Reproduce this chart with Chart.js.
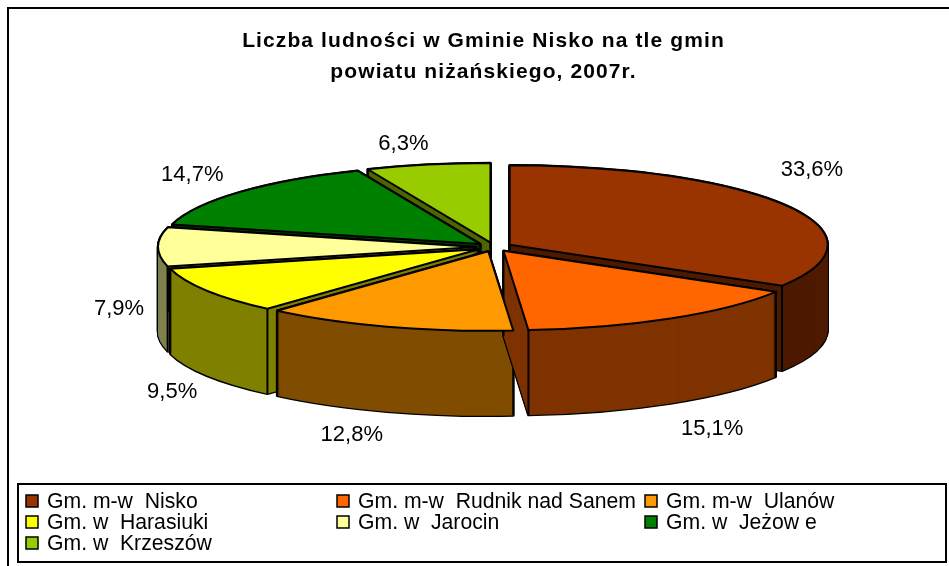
<!DOCTYPE html>
<html><head><meta charset="utf-8">
<script src="https://cdn.jsdelivr.net/npm/chart.js@4"></script>
<style>html,body{margin:0;padding:0;background:#fff}#w{position:relative;width:949px;height:566px}canvas{display:block}</style>
</head><body><div id="w"><canvas id="c" width="949" height="566"></canvas></div>
<script>
const categories = ['Gm. m-w  Nisko','Gm. m-w  Rudnik nad Sanem','Gm. m-w  Ulanów','Gm. w  Harasiuki','Gm. w  Jarocin','Gm. w  Jeżow e','Gm. w  Krzeszów'];
const shares = [33.6,15.1,12.8,9.5,7.9,14.7,6.3];
const topColors = ['#993300','#FF6600','#FF9900','#FFFF00','#FFFF99','#008000','#99CC00'];
const wallColors = ['#4D1A00','#7F3300','#804D00','#808000','#80804D','#004000','#4D6600'];
const titleLines = ['Liczba ludności w Gminie Nisko na tle gmin','powiatu niżańskiego, 2007r.'];
const wallOrder = [6,5,4,0,3,2,1];
const labelNudge = [[41,-38],[51,114],[-41,113],[-50,104],[-57,62],[-61,-20],[-28,-25]];
const legendCols = [26,337,645];
const legendRows = [501,522,543];

const EXPLODE = 18;
const PIE = {cx:494, cy:247, yScale:0.25, depth:85, radius:318};
let base = {x:0, y:0};
const place = (ctx, dy) => {
  ctx.translate(PIE.cx, PIE.cy + dy);
  ctx.scale(1, PIE.yScale);
  ctx.translate(-base.x, -base.y);
};
const slicePath = (ctx, a, dy) => {
  ctx.save();
  place(ctx, dy);
  ctx.beginPath();
  ctx.moveTo(a.x, a.y);
  ctx.arc(a.x, a.y, a.outerRadius, a.startAngle, a.endAngle);
  ctx.closePath();
  ctx.restore();
};
const pie3d = {
  id: 'pie3d',
  afterDatasetsUpdate(chart) {
    const arcs = chart.getDatasetMeta(0).data;
    base = {x: arcs[0].x, y: arcs[0].y};
    arcs.forEach((a) => {
      const m = (a.startAngle + a.endAngle) / 2;
      a.x = base.x + Math.cos(m) * EXPLODE;
      a.y = base.y + Math.sin(m) * EXPLODE;
    });
  },
  beforeDraw(chart) {
    const {ctx, width, height} = chart;
    ctx.save();
    ctx.fillStyle = '#fff';
    ctx.fillRect(0, 0, width, height);
    ctx.strokeStyle = '#000';
    ctx.lineWidth = 2;
    ctx.strokeRect(8, 8, width + 20, height + 20);
    ctx.restore();
    ctx.letterSpacing = '1.1px';
  },
  beforeDatasetsDraw(chart) {
    const {ctx} = chart;
    ctx.letterSpacing = '0px';
    const arcs = chart.getDatasetMeta(0).data;
    wallOrder.forEach((i) => {
      const a = arcs[i];
      ctx.save();
      ctx.strokeStyle = '#000';
      ctx.lineWidth = 2.5;
      ctx.lineJoin = 'round';
      for (let d = PIE.depth; d >= 0; d--) { slicePath(ctx, a, d); ctx.stroke(); }
      ctx.restore();
      const saved = a.options;
      a.options = Object.assign({}, saved, {backgroundColor: wallColors[i], borderWidth: 0});
      for (let d = PIE.depth; d >= 1; d--) {
        ctx.save();
        place(ctx, d);
        a.draw(ctx);
        ctx.restore();
      }
      a.options = saved;
      const r = a.outerRadius;
      const corners = [
        [a.x + Math.cos(a.startAngle) * r, a.y + Math.sin(a.startAngle) * r],
        [a.x + Math.cos(a.endAngle) * r, a.y + Math.sin(a.endAngle) * r]];
      const down = Math.PI / 2 + (a.startAngle > Math.PI / 2 ? Math.PI * 2 : 0);
      if (!(a.startAngle <= down && down <= a.endAngle)) corners.push([a.x, a.y]);
      corners.forEach(([px, py]) => {
        ctx.save();
        place(ctx, 0);
        const t = ctx.getTransform();
        ctx.restore();
        const sx = t.a * px + t.e, sy = t.d * py + t.f;
        ctx.save();
        ctx.strokeStyle = '#000';
        ctx.lineWidth = 2;
        ctx.beginPath();
        ctx.moveTo(sx, sy);
        ctx.lineTo(sx, sy + PIE.depth);
        ctx.stroke();
        ctx.restore();
      });
    });
    ctx.save();
    place(ctx, 0);
  },
  afterDatasetsDraw(chart) {
    const {ctx} = chart;
    ctx.restore();
    const arcs = chart.getDatasetMeta(0).data;
    arcs.forEach((a) => {
      ctx.save();
      ctx.strokeStyle = '#000';
      ctx.lineWidth = 2;
      ctx.lineJoin = 'round';
      slicePath(ctx, a, 0);
      ctx.stroke();
      ctx.restore();
    });
    ctx.save();
    ctx.font = '22px "Liberation Sans", Arial, sans-serif';
    ctx.fillStyle = '#000';
    ctx.textAlign = 'center';
    ctx.textBaseline = 'middle';
    arcs.forEach((a, i) => {
      const m = (a.startAngle + a.endAngle) / 2;
      const x = PIE.cx + Math.cos(m) * PIE.radius + labelNudge[i][0];
      const y = PIE.cy + Math.sin(m) * PIE.radius * PIE.yScale + labelNudge[i][1];
      ctx.fillText(shares[i].toFixed(1).replace('.', ',') + '%', x, y);
    });
    ctx.restore();
  },
  afterDraw(chart) {
    const {ctx} = chart;
    ctx.save();
    ctx.fillStyle = '#fff';
    ctx.strokeStyle = '#000';
    ctx.lineWidth = 2;
    ctx.fillRect(18, 484, 928, 78);
    ctx.strokeRect(18, 484, 928, 78);
    ctx.font = '21.2px "Liberation Sans", Arial, sans-serif';
    ctx.textBaseline = 'middle';
    categories.forEach((name, i) => {
      const x = legendCols[i % 3], y = legendRows[Math.floor(i / 3)];
      ctx.fillStyle = topColors[i];
      ctx.fillRect(x, y - 6, 12, 12);
      ctx.strokeStyle = '#000';
      ctx.lineWidth = 1.5;
      ctx.strokeRect(x, y - 6, 12, 12);
      ctx.fillStyle = '#000';
      ctx.fillText(name, x + 21, y + 1);
    });
    ctx.restore();
  }
};
new Chart(document.getElementById('c'), {
  type: 'pie',
  data: {
    labels: categories,
    datasets: [{
      data: shares,
      backgroundColor: topColors,
      borderWidth: 0,
      radius: PIE.radius,
      clip: false
    }]
  },
  plugins: [pie3d],
  options: {
    responsive: false,
    animation: false,
    layout: {padding: {left: 18, top: 26}},
    plugins: {
      legend: {display: false},
      tooltip: {enabled: false},
      title: {
        display: true,
        text: titleLines,
        color: '#000',
        font: {family: '"Liberation Sans", Arial, sans-serif', size: 21, weight: 'bold', lineHeight: 1.476},
        padding: 0
      }
    }
  }
});
</script></body></html>
